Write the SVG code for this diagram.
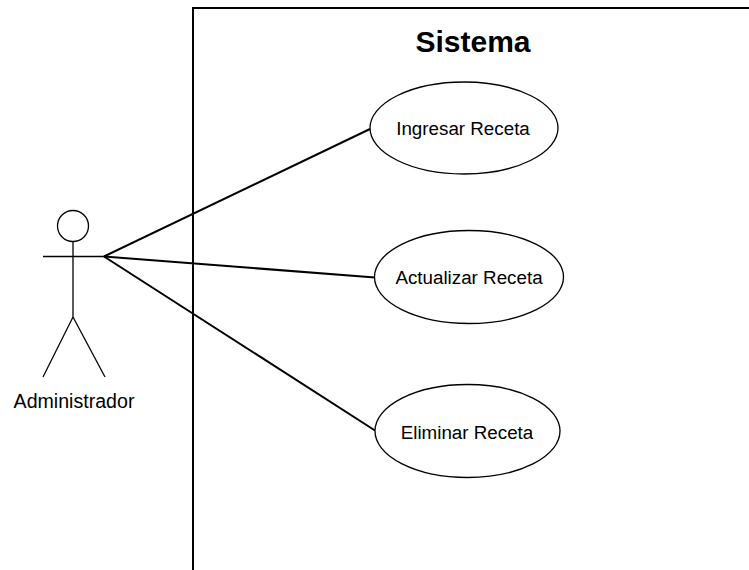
<svg xmlns="http://www.w3.org/2000/svg" width="749" height="570" viewBox="0 0 749 570">
<style>
.thin{fill:none;stroke:#000;stroke-width:1.3}
.uc{fill:#fff;stroke:#000;stroke-width:1.3}
.conn{fill:none;stroke:#000;stroke-width:2}
.lbl{font-family:"Liberation Sans",Arial,sans-serif;font-size:18.8px;fill:#000;text-anchor:middle}
</style>
<rect width="749" height="570" fill="#fff"/>
<g id="system">
<rect x="193" y="8" width="600" height="600" fill="none" stroke="#000" stroke-width="2"/>
<text x="473" y="52" font-family="Liberation Sans,Arial,sans-serif" font-size="30" font-weight="bold" text-anchor="middle">Sistema</text>
</g>
<g id="connectors">
<line class="conn" x1="104" y1="256.5" x2="370" y2="129"/>
<line class="conn" x1="104" y1="256.5" x2="375" y2="277.5"/>
<line class="conn" x1="104" y1="256.5" x2="375" y2="430.5"/>
</g>
<g id="actor">
<circle class="thin" cx="73" cy="226" r="15.5"/>
<line class="thin" x1="73" y1="241.5" x2="73" y2="317"/>
<line class="thin" x1="43" y1="256.5" x2="104" y2="256.5"/>
<line class="thin" x1="73" y1="317" x2="43" y2="377"/>
<line class="thin" x1="73" y1="317" x2="105" y2="377"/>
<text class="lbl" x="74" y="408" style="font-size:19.6px">Administrador</text>
</g>
<g id="uc1">
<ellipse class="uc" cx="464" cy="128" rx="94" ry="46"/>
<text class="lbl" x="463" y="135">Ingresar Receta</text>
</g>
<g id="uc2">
<ellipse class="uc" cx="469" cy="277" rx="94.5" ry="46.5"/>
<text class="lbl" x="469" y="283.5">Actualizar Receta</text>
</g>
<g id="uc3">
<ellipse class="uc" cx="467.5" cy="431" rx="92.5" ry="46.5"/>
<text class="lbl" x="467" y="439">Eliminar Receta</text>
</g>
</svg>
